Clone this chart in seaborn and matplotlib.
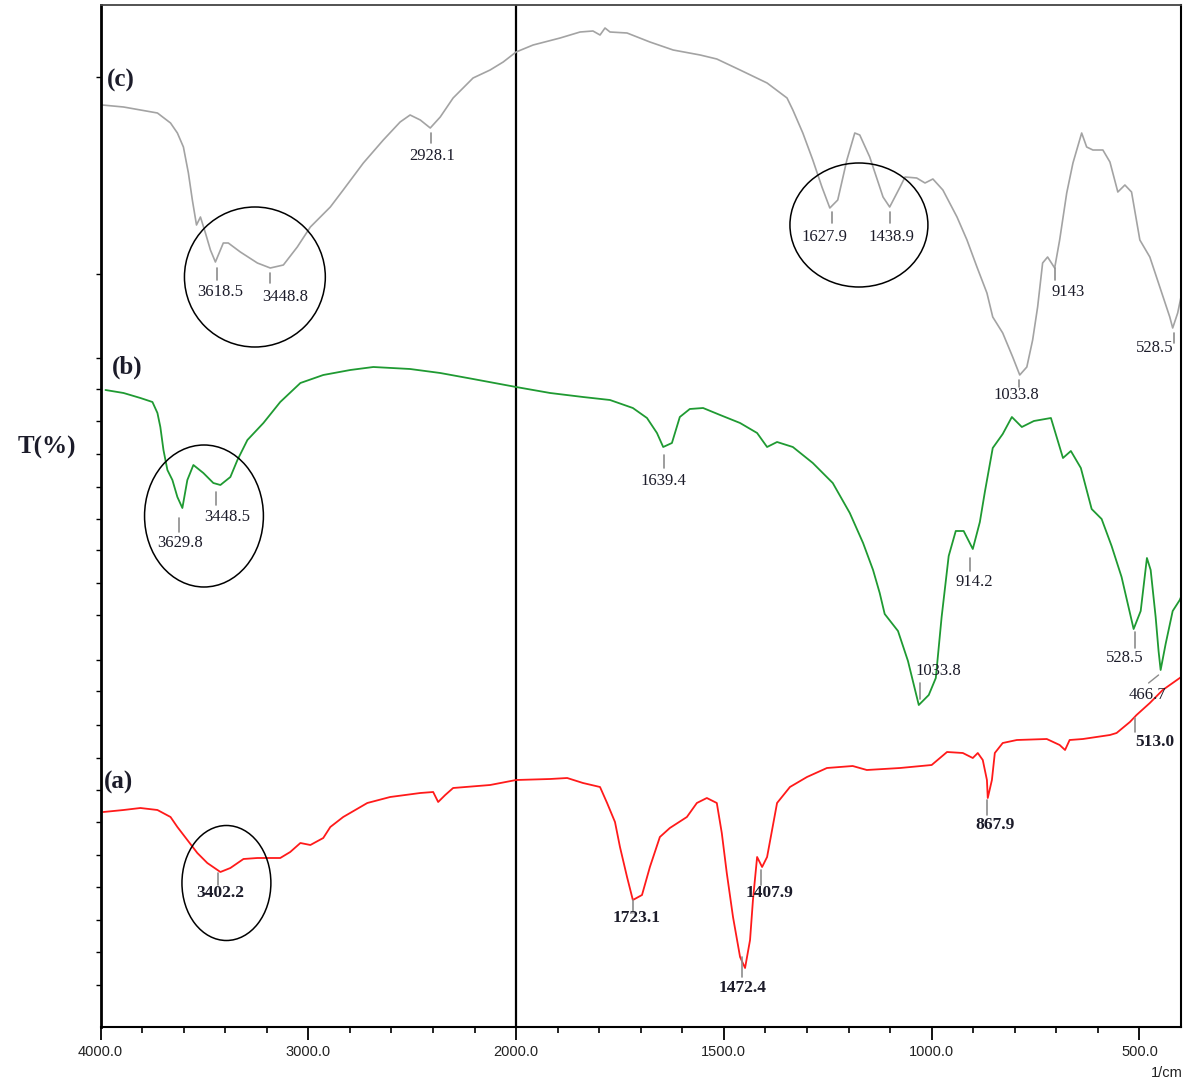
import numpy as np
import matplotlib
matplotlib.use("Agg")
import matplotlib.pyplot as plt
import seaborn as sns
from matplotlib.patches import Ellipse
from matplotlib.ticker import FixedLocator

sns.set_style("white")
plt.rcParams['font.family'] = ['Liberation Serif', 'DejaVu Serif']

# ---------------- data (wavenumber 1/cm, transmittance offset units) ----------------
wn_c = [3992, 3889, 3726, 3663, 3630, 3601, 3577, 3558, 3538, 3519, 3495, 3471, 3447, 3409, 3385,
        3327, 3245, 3183, 3120, 3053, 2990, 2894, 2832, 2735, 2639, 2558, 2510, 2461, 2413, 2365,
        2303, 2207, 2125, 2062, 2000, 1959, 1894, 1846, 1815, 1798, 1786, 1774, 1733, 1678, 1622,
        1557, 1517, 1461, 1396, 1348, 1334, 1310, 1286, 1264, 1245, 1226, 1204, 1185, 1173, 1149,
        1117, 1101, 1076, 1064, 1036, 1016, 997, 973, 939, 915, 891, 867, 853, 829, 805,
        788, 771, 757, 745, 733, 721, 704, 692, 675, 660, 639, 627, 612, 588, 571,
        552, 535, 519, 499, 475, 451, 427, 420, 408, 400]
t_c = [92.0, 91.8, 91.2, 90.2, 89.2, 87.8, 85.2, 82.5, 80.0, 80.8, 79.2, 77.5, 76.3, 78.2, 78.2,
       77.3, 76.2, 75.7, 76.0, 77.8, 79.8, 81.8, 83.5, 86.2, 88.5, 90.3, 91.0, 90.5, 89.7, 90.8,
       92.7, 94.7, 95.5, 96.3, 97.3, 98.0, 98.7, 99.3, 99.4, 99.0, 99.7, 99.3, 99.2, 98.3, 97.5,
       97.0, 96.6, 95.5, 94.2, 92.7, 91.5, 89.2, 86.5, 83.8, 81.7, 82.5, 86.5, 89.2, 89.0, 86.8,
       82.8, 81.8, 83.8, 84.8, 84.7, 84.2, 84.6, 83.5, 80.8, 78.5, 75.8, 73.2, 70.8, 69.2, 66.8,
       65.0, 65.8, 68.5, 71.8, 76.2, 76.8, 75.7, 78.5, 83.2, 86.2, 89.2, 87.8, 87.5, 87.5, 86.3,
       83.3, 84.0, 83.3, 78.5, 76.8, 73.8, 70.8, 69.7, 71.2, 72.8]

wn_b = [3976, 3889, 3808, 3750, 3726, 3712, 3697, 3678, 3654, 3630, 3606, 3582, 3553, 3505, 3457,
        3423, 3375, 3341, 3293, 3216, 3135, 3038, 2928, 2798, 2687, 2510, 2365, 2207, 2000,
        1918, 1839, 1774, 1719, 1685, 1661, 1646, 1625, 1606, 1582, 1550, 1509, 1461, 1420, 1396,
        1372, 1334, 1286, 1238, 1197, 1165, 1141, 1125, 1113, 1081, 1057, 1031, 1007, 990, 976,
        959, 942, 923, 901, 884, 872, 853, 829, 807, 783, 754, 713, 684, 665, 641,
        615, 591, 567, 543, 514, 497, 482, 473, 461, 454, 449, 437, 420, 403, 400]
t_b = [63.5, 63.2, 62.7, 62.3, 61.2, 59.8, 57.5, 55.5, 54.5, 52.8, 51.7, 54.5, 56.0, 55.2, 54.2,
       54.0, 54.8, 56.5, 58.5, 60.2, 62.3, 64.2, 65.0, 65.5, 65.8, 65.6, 65.2, 64.6, 63.8,
       63.2, 62.8, 62.5, 61.7, 60.7, 59.2, 57.8, 58.2, 60.8, 61.6, 61.7, 61.0, 60.2, 59.2, 57.8,
       58.3, 57.8, 56.2, 54.2, 51.2, 48.2, 45.5, 43.2, 41.1, 39.4, 36.4, 32.0, 33.0, 34.7, 40.8,
       46.9, 49.4, 49.4, 47.6, 50.3, 53.3, 57.7, 59.1, 60.8, 59.8, 60.4, 60.7, 56.7, 57.4, 55.7,
       51.6, 50.6, 47.9, 44.8, 39.6, 41.4, 46.7, 45.5, 40.8, 37.4, 35.5, 38.1, 41.4, 42.5, 42.8]

wn_a = [3986, 3889, 3808, 3726, 3663, 3630, 3582, 3534, 3486, 3423, 3375, 3312, 3245, 3135, 3087,
        3038, 2990, 2928, 2894, 2832, 2716, 2606, 2461, 2399, 2375, 2341, 2303, 2125, 2000,
        1918, 1877, 1839, 1798, 1781, 1762, 1750, 1733, 1719, 1697, 1678, 1654, 1630, 1589, 1565,
        1541, 1517, 1505, 1493, 1478, 1461, 1449, 1437, 1430, 1420, 1408, 1396, 1384, 1372, 1341,
        1300, 1252, 1190, 1156, 1076, 1000, 963, 925, 901, 889, 877, 867, 865, 855, 848,
        829, 795, 723, 692, 679, 668, 636, 571, 555, 523, 507, 475, 444, 403, 400]
t_a = [21.3, 21.5, 21.7, 21.5, 20.8, 19.8, 18.5, 17.2, 16.2, 15.3, 15.7, 16.6, 16.7, 16.7, 17.3,
       18.2, 18.0, 18.7, 19.8, 20.8, 22.2, 22.8, 23.2, 23.3, 22.3, 23.0, 23.7, 24.0, 24.5,
       24.6, 24.7, 24.2, 23.8, 22.2, 20.3, 17.8, 14.8, 12.5, 13.0, 15.8, 18.8, 19.7, 20.8, 22.2,
       22.7, 22.2, 19.2, 15.2, 10.8, 6.8, 5.7, 8.5, 12.5, 16.8, 15.8, 16.8, 19.5, 22.2, 23.8,
       24.8, 25.7, 25.9, 25.5, 25.7, 26.0, 27.3, 27.2, 26.7, 27.2, 26.5, 24.5, 22.7, 24.5, 27.2,
       28.2, 28.5, 28.6, 28.0, 27.5, 28.5, 28.6, 29.0, 29.2, 30.3, 31.0, 32.2, 33.5, 34.7, 34.8]

major_ticks = [4000, 3000, 2000, 1500, 1000, 500]
major_labels = ["4000.0", "3000.0", "2000.0", "1500.0", "1000.0", "500.0"]
minor_ticks = [3800, 3600, 3400, 3200, 2800, 2600, 2400, 2200,
               1900, 1800, 1700, 1600, 1400, 1300, 1200, 1100, 900, 800, 700, 600]

# peak labels: text, tick wn, tick top, tick bottom, text wn, text T
peaks_c = [("3618.5", 3437, 75.7, 74.5, 3423, 73.3),
           ("3448.8", 3183, 75.2, 74.2, 3111, 72.8),
           ("2928.1", 2410, 89.2, 88.2, 2405, 86.9),
           ("1627.9", 1240, 81.3, 80.2, 1257, 78.8),
           ("1438.9", 1101, 81.3, 80.2, 1096, 78.8),
           ("9143", 704, 75.7, 74.5, 672, 73.3),
           ("528.5", 417, 69.2, 68.2, 463, 67.7),
           ("1033.8", 790, 64.5, 63.8, 795, 63.0)]
peaks_b = [("3629.8", 3620, 50.7, 49.3, 3615, 48.2),
           ("3448.5", 3442, 53.3, 52.0, 3391, 50.8),
           ("1639.4", 1644, 57.0, 55.7, 1646, 54.4),
           ("914.2", 907, 46.7, 45.4, 897, 44.3),
           ("1033.8", 1028, 34.2, 32.6, 983, 35.4),
           ("528.5", 511, 39.3, 37.7, 536, 36.7),
           ("466.7", None, None, None, 481, 33.0)]
peaks_a = [("3402.2", 3433, 15.2, 14.0, 3423, 13.2),
           ("1723.1", 1719, 12.5, 11.2, 1710, 10.7),
           ("1472.4", 1457, 6.8, 4.8, 1454, 3.7),
           ("1407.9", 1411, 15.5, 14.0, 1389, 13.2),
           ("867.9", 867, 22.5, 21.0, 848, 20.0),
           ("513.0", 511, 30.7, 29.3, 463, 28.3)]

# ---------------- figure ----------------
W, H = 1191, 1081
fig = plt.figure(figsize=(W / 100, H / 100), dpi=100)
L, R, T, B = 100.5, 1181, 5, 1027
ax = fig.add_axes([L / W, 1 - B / H, (R - L) / W, (B - T) / H])


def fwd(x):
    x = np.asarray(x, dtype=float)
    return np.where(x >= 2000, x, 2 * x - 2000)


def inv(u):
    u = np.asarray(u, dtype=float)
    return np.where(u >= 2000, u, (u + 2000) / 2)


ax.set_xscale('function', functions=(fwd, inv))
ax.set_xlim(4000, 400)
ax.set_ylim(-0.2, 102)

sns.lineplot(x=wn_c, y=t_c, ax=ax, color='#a3a3a3', lw=1.2, sort=False, estimator=None)
sns.lineplot(x=wn_b, y=t_b, ax=ax, color='#1f9a32', lw=1.3, sort=False, estimator=None)
sns.lineplot(x=wn_a, y=t_a, ax=ax, color='#ff1a1a', lw=1.3, sort=False, estimator=None)
ax.set_xlim(4000, 400)
ax.set_ylim(-0.2, 102)
ax.set_xlabel("")
ax.set_ylabel("")

ax.axvline(2000, color='black', lw=1.6, zorder=1)

# axes frame
for side, lw, col in [("left", 2.0, "black"), ("bottom", 1.5, "black"),
                      ("right", 1.5, "black"), ("top", 1.3, "#444444")]:
    ax.spines[side].set_visible(True)
    ax.spines[side].set_linewidth(lw)
    ax.spines[side].set_color(col)

ax.xaxis.set_major_locator(FixedLocator(major_ticks))
ax.set_xticklabels(major_labels)
ax.xaxis.set_minor_locator(FixedLocator(minor_ticks))
ax.tick_params(axis='x', which='both', bottom=True, top=False)
ax.tick_params(axis='x', which='major', direction='out', length=9, width=1.3,
               pad=4, labelsize=10.5, colors='black')
ax.tick_params(axis='x', which='minor', direction='out', length=4.5, width=1.2, colors='black')
for lbl in ax.get_xticklabels():
    lbl.set_fontfamily(['Liberation Sans', 'DejaVu Sans'])
    lbl.set_color('#222222')

ytick_vals = [94.8, 75.1, 66.7, 63.6, 60.4, 57.1, 53.8, 50.6, 47.5, 44.2, 41.0, 36.5, 33.4,
              30.0, 26.7, 23.5, 20.3, 17.0, 13.8, 10.5, 7.3, 4.0]
ax.set_yticks(ytick_vals)
ax.set_yticklabels([])
ax.tick_params(axis='y', which='major', direction='out', length=3.5, width=1.0,
               colors='black', left=True, right=False)

txt_col = '#1c1c2a'


def draw_peaks(peaks, bold=False, size=12):
    for name, wt, t1, t2, tx, ty in peaks:
        if wt is not None:
            ax.plot([wt, wt], [t1, t2], color='#8c8c8c', lw=1.2, zorder=3)
        ax.text(tx, ty, name, ha='center', va='center', fontsize=size,
                fontweight='bold' if bold else 'normal', color=txt_col, zorder=4)


draw_peaks(peaks_c)
draw_peaks(peaks_b)
draw_peaks(peaks_a, bold=True, size=12.5)
ax.plot([454, 478], [35.0, 34.2], color='#8c8c8c', lw=1.0)

# circled regions
for (cx, cy, w, h) in [(3257, 74.8, 678, 14.0), (1175, 80.0, 332, 12.4),
                       (3502, 50.9, 572, 14.2), (3394, 14.2, 428, 11.5)]:
    ax.add_patch(Ellipse((cx, cy), w, h, fill=False, edgecolor='black', lw=1.1, zorder=5))

# spectrum labels
for name, x0, y0 in [("(c)", 3971, 94.5), ("(b)", 3944, 65.8), ("(a)", 3986, 24.3)]:
    ax.text(x0, y0, name, ha='left', va='center', fontsize=18, fontweight='bold', color=txt_col)

fig.text(47 / W, 1 - 447 / H, "T(%)", ha='center', va='center', fontsize=18,
         fontweight='bold', color=txt_col)
fig.text(1183 / W, 1 - 1073 / H, "1/cm", ha='right', va='center', fontsize=10.5,
         family=['Liberation Sans', 'DejaVu Sans'], color='#222222')

fig.savefig("out.png", dpi=100)
